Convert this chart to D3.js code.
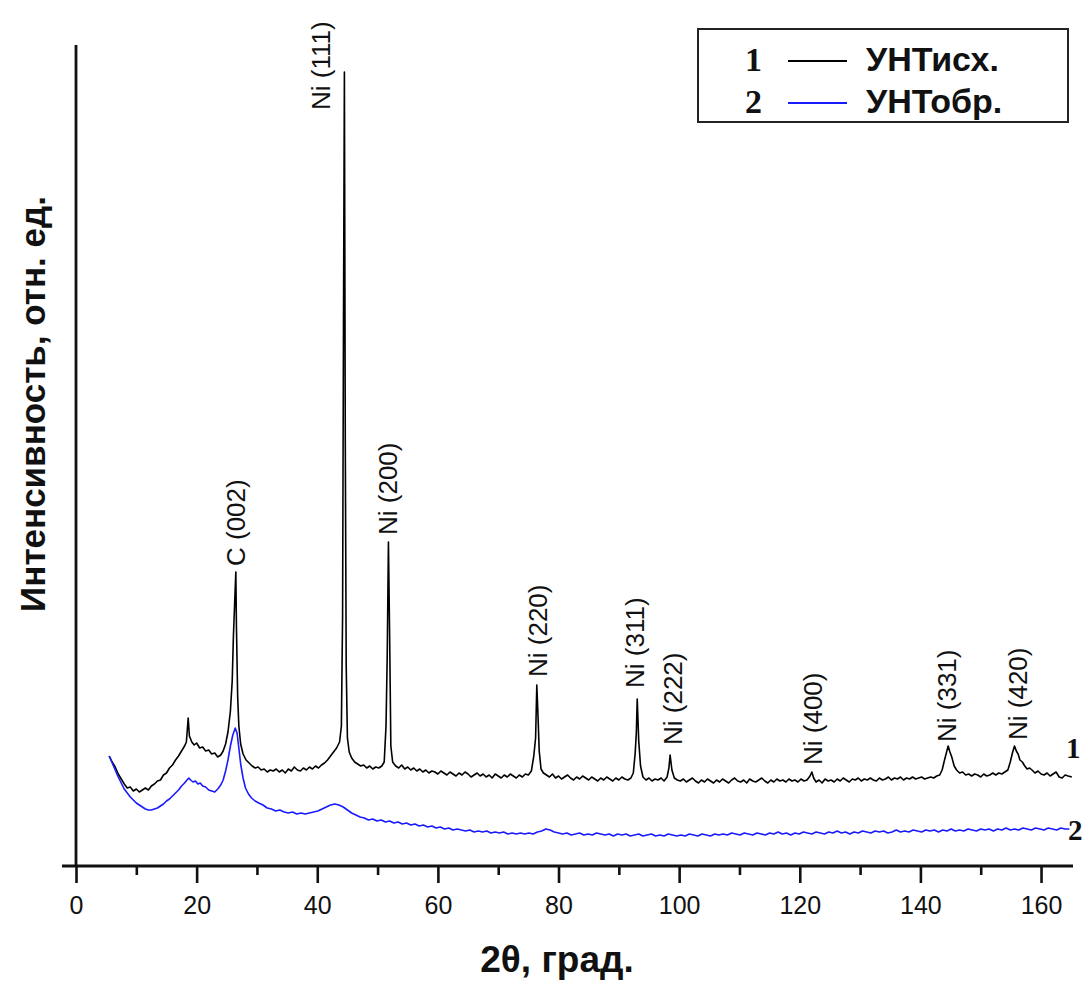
<!DOCTYPE html>
<html>
<head>
<meta charset="utf-8">
<script src="https://cdn.jsdelivr.net/npm/d3@7"></script>
<style>
  body { margin: 0; background: #fff; }
  svg { display: block; font-family: "Liberation Sans", Arial, sans-serif; }
</style>
</head>
<body>
<script>
// XRD patterns, 2theta (deg) vs intensity (rel. units)
var seriesNames = ["УНТисх.", "УНТобр."];
var seriesColors = ["#000000", "#1a1aff"];

var curve1 = [
  [5.5,110],[6,104],[6.5,99],[7,92],[7.5,87],[8,82],[8.5,78],[9,79],[9.5,75],[10,77],[10.5,74],[11,76],[11.5,78],[12,76],[12.5,80],[13,82],[13.5,85],[14,86],[14.5,91],[15,93],[15.5,98],[16,101],[16.5,106],[17,110],[17.5,115],[18,120],[18.3,124],[18.6,148],[18.8,130],[19.2,124],[19.6,121],[20,123],[20.5,118],[21,119],[21.5,115],[22,116],[22.5,112],[23,113],[23.5,109],[24,111],[24.4,115],[24.8,122],[25.2,134],[25.6,155],[25.9,185],[26.1,230],[26.3,262],[26.5,294],[26.6,240],[26.8,170],[27,140],[27.3,122],[27.7,112],[28.2,106],[28.7,103],[29.2,100],[29.7,98],[30.2,99],[30.7,96],[31.2,97],[31.7,94],[32.2,96],[32.7,95],[33.2,97],[33.7,94],[34.2,96],[34.7,93],[35.2,97],[35.7,95],[36.2,99],[36.7,96],[37.2,95],[37.7,98],[38.2,96],[38.7,99],[39.2,97],[39.7,100],[40.2,98],[40.7,101],[41.2,103],[41.7,106],[42.2,110],[42.7,114],[43.2,118],[43.7,124],[44.0,140],[44.2,250],[44.35,546],[44.5,794],[44.65,420],[44.8,200],[45,128],[45.3,114],[45.7,108],[46.2,104],[46.7,102],[47.2,100],[47.7,101],[48.2,98],[48.7,100],[49.2,97],[49.7,99],[50.2,98],[50.7,100],[51.1,104],[51.4,140],[51.6,210],[51.8,324],[52.0,230],[52.2,120],[52.5,104],[53,100],[53.5,98],[54,101],[54.5,97],[55,99],
  [55.5,96],[56,98],[56.5,95],[57,97],[57.5,94],[58,96],[58.5,93],[59,95],[59.5,94],[60,92],[60.5,95],[61,93],[61.5,91],[62,94],[62.5,92],[63,90],[63.5,93],[64,91],[64.5,94],[65,92],[65.5,89],[66,91],[66.5,93],[67,90],[67.5,92],[68,89],[68.5,91],[69,88],[69.5,92],[70,90],[70.5,88],[71,91],[71.5,89],[72,92],[72.5,90],[73,88],[73.5,91],[74,89],[74.5,92],[75,91],[75.5,95],[75.9,110],[76.2,128],[76.4,181],[76.6,150],[76.8,115],[77.1,97],[77.5,93],[78,91],
  [78.5,89],[79,92],[79.5,88],[80,90],[80.5,87],[81,89],[81.5,91],[82,88],[82.5,86],[83,89],[83.5,87],[84,90],[84.5,88],[85,86],[85.5,89],[86,87],[86.5,85],[87,88],[87.5,86],[88,89],[88.5,87],[89,85],[89.5,88],[90,86],[90.5,89],[91,87],[91.5,86],[92,88],[92.4,93],[92.7,112],[92.9,133],[93.05,167],[93.3,125],[93.6,100],[94,89],[94.5,86],[95,88],[95.5,85],[96,87],[96.5,86],[97,88],[97.5,85],[98,89],[98.3,98],[98.5,111],[98.8,96],[99.2,88],[99.7,86],
  [100.2,85],[100.7,87],[101.2,84],[101.7,86],[102.2,88],[102.7,85],[103.2,83],[103.7,86],[104.2,84],[104.7,87],[105.2,85],[105.7,83],[106.2,86],[106.7,84],[107.2,87],[107.7,85],[108.2,83],[108.7,86],[109.2,88],[109.7,85],[110.2,84],[110.7,86],[111.2,83],[111.7,87],[112.2,85],[112.7,84],[113.2,86],[113.7,88],[114.2,85],[114.7,83],[115.2,86],[115.7,84],[116.2,87],[116.7,85],[117.2,86],[117.7,84],[118.2,87],[118.7,85],[119.2,86],[119.7,84],[120.2,87],[120.7,85],[121.2,86],[121.7,90],[122,94],[122.3,88],[122.7,84],[123.2,86],
  [123.7,83],[124.2,87],[124.7,85],[125.2,86],[125.7,84],[126.2,87],[126.7,85],[127.2,88],[127.7,86],[128.2,84],[128.7,87],[129.2,86],[129.7,88],[130.2,85],[130.7,87],[131.2,86],[131.7,88],[132.2,86],[132.7,85],[133.2,88],[133.7,86],[134.2,87],[134.7,89],[135.2,86],[135.7,88],[136.2,87],[136.7,89],[137.2,86],[137.7,88],[138.2,87],[138.7,89],[139.2,87],[139.7,88],[140.2,89],[140.7,87],[141.2,88],[141.7,89],[142.2,88],[142.7,90],[143.2,91],[143.6,96],[144,106],[144.3,113],[144.6,120],[144.9,114],[145.2,109],[145.6,100],[146,96],[146.5,93],[147,94],[147.5,91],[148,92],[148.5,90],[149,92],[149.5,91],[150,89],[150.5,92],[151,90],[151.5,91],[152,93],[152.5,91],[153,93],[153.5,92],[154,94],[154.5,96],[154.9,104],[155.3,114],[155.6,120],[155.9,115],[156.2,112],[156.5,106],[156.9,104],[157.3,100],[157.7,97],[158.1,98],[158.5,96],[159,93],[159.5,95],[160,92],[160.5,91],[161,93],[161.5,90],[162,92],[162.5,94],[163,89],[163.5,88],[164,91],[164.5,90],[165.1,89]
];

var curve2 = [
  [5.5,110],[6,103],[6.5,96],[7,89],[7.5,83],[8,77],[8.5,73],[9,69],[9.5,66],[10,63],[10.5,61],[11,59],[11.5,57],[12,56],[12.5,56],[13,57],[13.5,58],[14,60],[14.5,62],[15,65],[15.5,67],[16,70],[16.5,73],[17,76],[17.5,80],[18,83],[18.4,86],[18.7,88],[19,86],[19.4,84],[19.8,85],[20.2,82],[20.6,83],[21,80],[21.5,79],[22,76],[22.5,75],[23,74],[23.5,77],[24,81],[24.4,86],[24.8,95],[25.2,106],[25.6,120],[26,131],[26.4,138],[26.7,133],[27,118],[27.3,102],[27.7,88],[28.1,78],[28.6,72],[29.1,68],[29.7,65],[30.3,63],[31,61],[31.7,58],[32.4,57],[33.1,55],[33.8,56],[34.5,54],[35.2,53],[35.9,54],[36.6,52],[37.3,53],[38,52],[38.7,53],[39.4,54],[40.1,55],[40.8,57],[41.5,59],[42.2,61],[42.9,62],[43.6,61],[44.3,59],[45,56],[45.7,53],[46.4,51],[47.1,49],[47.8,48],[48.5,46],[49.2,47],[49.9,45],[50.6,46],[51.3,44],[52,45],[52.7,43],[53.4,44],[54.1,42],[54.8,43],[55.5,41],[56.2,42],[56.9,40],[57.6,41],[58.3,39],[59,40],[59.7,38],[60.4,39],[61.1,37],[61.8,38],[62.5,36],[63.2,37],[63.9,36],[64.6,35],[65.3,36],[66,34],[66.7,35],[67.4,34],[68.1,35],[68.8,33],[69.5,34],[70.2,33],[70.9,34],[71.6,32],[72.3,33],[73,32],[73.7,33],[74.4,32],[75.1,33],[75.8,32],[76.5,34],[77.2,35],[77.9,37],[78.6,36],[79.3,34],[80,33],[80.7,32],[81.4,33],[82.1,31],[82.8,32],[83.5,33],[84.2,31],[84.9,32],[85.6,31],[86.3,33],[87,32],[87.7,31],[88.4,32],[89.1,30],[89.8,32],[90.5,31],[91.2,32],[91.9,30],[92.6,31],[93.3,32],[94,30],[94.7,31],[95.4,32],[96.1,30],[96.8,31],[97.5,30],[98.2,32],[98.9,31],[99.6,30],
  [100.3,31],[101,30],[101.7,32],[102.4,31],[103.1,30],[103.8,32],[104.5,31],[105.2,30],[105.9,32],[106.6,31],[107.3,32],[108,31],[108.7,33],[109.4,32],[110.1,31],[110.8,33],[111.5,32],[112.2,31],[112.9,33],[113.6,32],[114.3,31],[115,33],[115.7,32],[116.4,34],[117.1,32],[117.8,33],[118.5,31],[119.2,33],[119.9,32],[120.6,34],[121.3,33],[122,32],[122.7,34],[123.4,33],[124.1,32],[124.8,34],[125.5,33],[126.2,35],[126.9,33],[127.6,34],[128.3,32],[129,34],[129.7,33],[130.4,35],[131.1,34],[131.8,33],[132.5,35],[133.2,34],[133.9,35],[134.6,33],[135.3,34],[136,36],[136.7,34],[137.4,35],[138.1,34],[138.8,36],[139.5,35],[140.2,34],[140.9,36],[141.6,35],[142.3,36],[143,34],[143.7,36],[144.4,35],[145.1,37],[145.8,35],[146.5,36],[147.2,35],[147.9,37],[148.6,36],[149.3,35],[150,37],[150.7,36],[151.4,37],[152.1,35],[152.8,37],[153.5,36],[154.2,38],[154.9,36],[155.6,37],[156.3,36],[157,38],[157.7,37],[158.4,36],[159.1,38],[159.8,37],[160.5,36],[161.2,38],[161.9,37],[162.6,36],[163.3,38],[164,37],[164.7,37]
];

// reflection labels and where their lower end sits (angle, intensity)
var peakNames = ["C (002)", "Ni (111)", "Ni (200)", "Ni (220)", "Ni (311)", "Ni (222)", "Ni (400)", "Ni (331)", "Ni (420)"];
var peakLabelAt = [[26.5,300],[40.5,756],[51.6,331],[76.5,189],[92.7,178],[99.0,121],[122.2,101],[144.4,124],[156.1,126]];

var xTicks = [0, 20, 40, 60, 80, 100, 120, 140, 160];
var xMinorTicks = [10, 30, 50, 70, 90, 110, 130, 150];

var width = 1090, height = 985;

var svg = d3.select("body").append("svg")
    .attr("width", width)
    .attr("height", height);

var x = d3.scaleLinear().domain([0, 165.3]).range([76, 1073]);
var y = d3.scaleLinear().domain([0, 820]).range([866, 46]);

// curves
var line = d3.line()
    .x(function(d) { return x(d[0]); })
    .y(function(d) { return y(d[1]); });

[curve1, curve2].forEach(function(c, i) {
  svg.append("path")
      .datum(c)
      .attr("d", line)
      .attr("fill", "none")
      .attr("stroke", seriesColors[i])
      .attr("stroke-width", 1.6)
      .attr("stroke-linejoin", "round");
});

// x axis
var xAxis = d3.axisBottom(x)
    .tickValues(xTicks)
    .tickSize(17)
    .tickPadding(8)
    .tickSizeOuter(0);

var gx = svg.append("g")
    .attr("transform", "translate(0," + 866 + ")")
    .call(xAxis);
gx.select(".domain").remove();
gx.selectAll(".tick line").attr("stroke", "#111").attr("stroke-width", 2.6);
gx.selectAll(".tick text")
    .attr("fill", "#111")
    .style("font-size", "25px")
    .attr("dy", "0.9em");

svg.append("g")
    .attr("transform", "translate(0," + 866 + ")")
    .call(d3.axisBottom(x).tickValues(xMinorTicks).tickSize(9).tickFormat(""))
    .call(function(g) { g.select(".domain").remove(); })
    .selectAll(".tick line").attr("stroke", "#111").attr("stroke-width", 2.6);

svg.append("line")
    .attr("x1", 62).attr("x2", 1073)
    .attr("y1", 866).attr("y2", 866)
    .attr("stroke", "#111").attr("stroke-width", 2.8);

// y axis (no labels)
svg.append("line")
    .attr("x1", x(0)).attr("x2", x(0))
    .attr("y1", 45).attr("y2", 866)
    .attr("stroke", "#111").attr("stroke-width", 2.8);

// axis titles
svg.append("text")
    .attr("transform", "translate(33,404) rotate(-90)")
    .attr("text-anchor", "middle")
    .attr("dy", "0.35em")
    .style("font-size", "35px")
    .style("font-weight", "bold")
    .attr("fill", "#111")
    .text("Интенсивность, отн. ед.");

svg.append("text")
    .attr("x", 557)
    .attr("y", 972)
    .attr("text-anchor", "middle")
    .style("font-size", "37px")
    .style("font-weight", "bold")
    .attr("fill", "#111")
    .text("2θ, град.");

// peak labels
svg.selectAll(".peak")
    .data(peakNames)
    .enter()
    .append("text")
    .attr("class", "peak")
    .attr("transform", function(d, i) {
      return "translate(" + x(peakLabelAt[i][0]) + "," + y(peakLabelAt[i][1]) + ") rotate(-90)";
    })
    .attr("dy", "0.36em")
    .style("font-size", "26px")
    .attr("fill", "#111")
    .text(function(d) { return d; });

// curve numbers at the right end
svg.append("text")
    .attr("x", 1066).attr("y", 758)
    .style("font-family", "'Liberation Serif', 'Times New Roman', serif")
    .style("font-size", "29px").style("font-weight", "bold")
    .attr("fill", "#111")
    .text("1");
svg.append("text")
    .attr("x", 1068).attr("y", 840)
    .style("font-family", "'Liberation Serif', 'Times New Roman', serif")
    .style("font-size", "29px").style("font-weight", "bold")
    .attr("fill", "#111")
    .text("2");

// legend
var legend = svg.append("g");
legend.append("rect")
    .attr("x", 698).attr("y", 29)
    .attr("width", 370).attr("height", 93)
    .attr("fill", "#fff")
    .attr("stroke", "#222")
    .attr("stroke-width", 2);

seriesNames.forEach(function(name, i) {
  var by = 71 + i * 42;
  legend.append("text")
      .attr("x", 745).attr("y", by)
      .style("font-family", "'Liberation Serif', 'Times New Roman', serif")
      .style("font-size", "34px").style("font-weight", "bold")
      .attr("fill", "#111")
      .text(i + 1);
  legend.append("line")
      .attr("x1", 788).attr("x2", 847)
      .attr("y1", by - 10).attr("y2", by - 10)
      .attr("stroke", seriesColors[i])
      .attr("stroke-width", 1.8);
  legend.append("text")
      .attr("x", 866).attr("y", by)
      .style("font-size", "34px").style("font-weight", "bold")
      .attr("fill", "#111")
      .text(name);
});
</script>
</body>
</html>
